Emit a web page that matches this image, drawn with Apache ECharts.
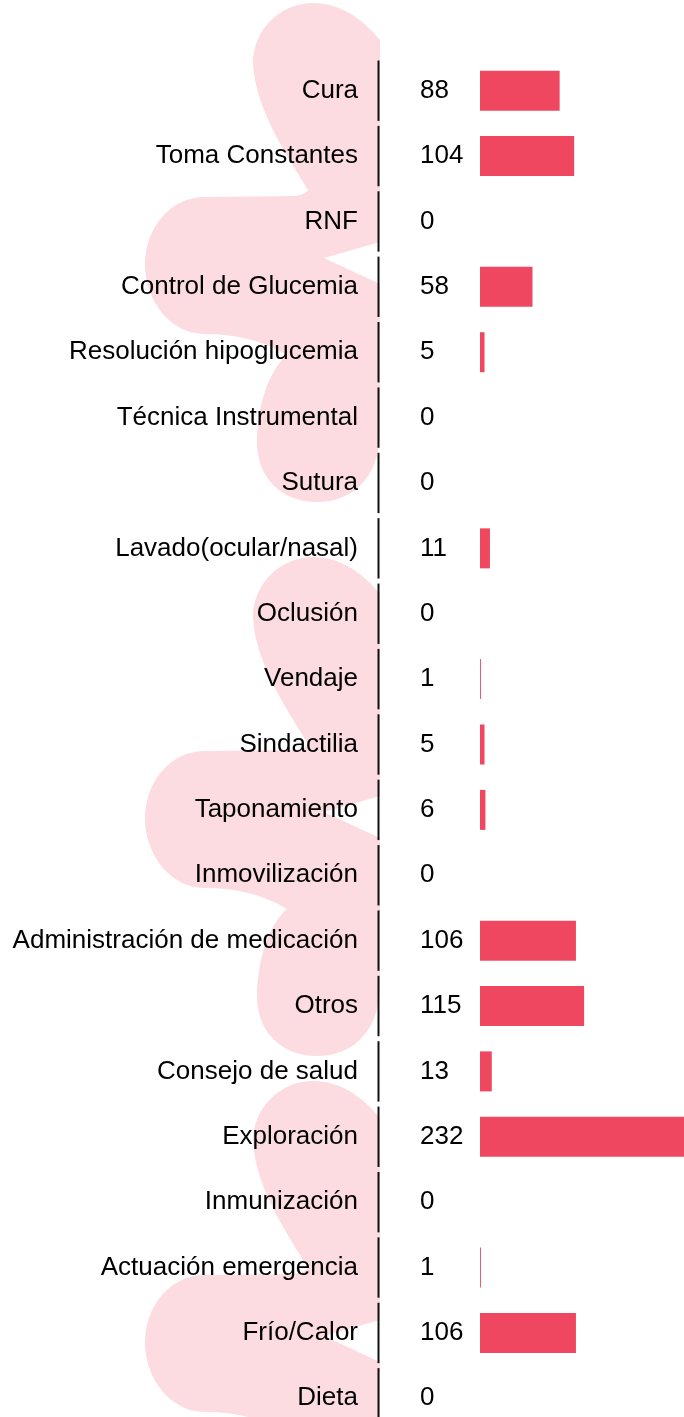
<!DOCTYPE html>
<html lang="es">
<head>
    <meta charset="UTF-8">
    <script type="text/javascript" src="https://cdn.jsdelivr.net/npm/echarts@6/dist/echarts.min.js"></script>
    <style>
        html, body { margin: 0; padding: 0; background: #fff; overflow: hidden; }
        /* el grafico es algo mayor que la ventana: la barra mayor y la ultima fila se cortan */
        #chart { width: 690px; height: 1431px; }
    </style>
</head>
<body>
    <div id="chart"></div>
<script>
    // categorias y valores (de arriba a abajo)
    var categories = [
        'Cura', 'Toma Constantes', 'RNF', 'Control de Glucemia', 'Resolución hipoglucemia',
        'Técnica Instrumental', 'Sutura', 'Lavado(ocular/nasal)', 'Oclusión', 'Vendaje',
        'Sindactilia', 'Taponamiento', 'Inmovilización', 'Administración de medicación', 'Otros',
        'Consejo de salud', 'Exploración', 'Inmunización', 'Actuación emergencia', 'Frío/Calor',
        'Dieta'
    ];
    var values = [88, 104, 0, 58, 5, 0, 0, 11, 0, 1, 5, 6, 0, 106, 115, 13, 232, 0, 1, 106, 0];

    var barColor = '#ef4760';
    var blobColor = '#fddce1';
    var font = '"Liberation Sans", Arial, sans-serif';

    // fondo decorativo (garabato rosa), se repite tres veces
    var blobPath = 'M 253 63 C 253 30 280 3 313 3 C 340 3 362 18 380 40 L 380 242 L 324 258 L 380 284 ' +
        'L 380 430 C 380 478 352 502 317 502 C 282 502 256 478 257 440 C 258 405 268 372 287 355 ' +
        'C 262 340 235 334 205 334 C 170 334 145 300 145 265 C 145 228 170 197 205 197 L 295 196 ' +
        'C 302 195 306 193 308 190 C 290 160 255 110 253 63 Z';
    var blobOffsets = [0, 554, 1078];

    echarts.graphic.registerShape('blob', echarts.graphic.extendPath(blobPath, {}));

    var chart = echarts.init(document.getElementById('chart'));

    var option = {
        animation: false,
        graphic: {
            elements: blobOffsets.map(function (dy) {
                return {
                    type: 'blob',
                    x: 0,
                    y: dy,
                    z: -10,
                    silent: true,
                    style: { fill: blobColor }
                };
            })
        },
        grid: {
            left: 480,
            top: 58,
            right: 0,
            bottom: 0,
            containLabel: false
        },
        xAxis: {
            type: 'value',
            min: 0,
            max: 232,
            show: false
        },
        yAxis: {
            type: 'category',
            inverse: true,
            data: categories,
            axisLine: { show: false },
            axisTick: { show: false },
            splitLine: { show: false },
            axisLabel: {
                margin: 122,
                fontSize: 26,
                fontFamily: font,
                color: '#000'
            }
        },
        series: [
            {
                type: 'bar',
                data: values,
                barWidth: 40,
                itemStyle: { color: barColor },
                label: {
                    show: true,
                    position: [-60, '50%'],
                    align: 'left',
                    verticalAlign: 'middle',
                    fontSize: 26,
                    fontFamily: font,
                    color: '#000'
                }
            },
            {
                // linea vertical partida, un tramo por fila
                type: 'custom',
                silent: true,
                data: categories.map(function (c, i) { return [0, i]; }),
                renderItem: function (params, api) {
                    var p = api.coord([0, api.value(1)]);
                    var h = api.size([0, 1])[1];
                    var x = p[0] - 101.5;
                    return {
                        type: 'line',
                        shape: { x1: x, y1: p[1] - h / 2 + 2.5, x2: x, y2: p[1] + h / 2 - 2.5 },
                        style: { stroke: '#111', lineWidth: 2 }
                    };
                }
            }
        ]
    };

    chart.setOption(option);
</script>
</body>
</html>
